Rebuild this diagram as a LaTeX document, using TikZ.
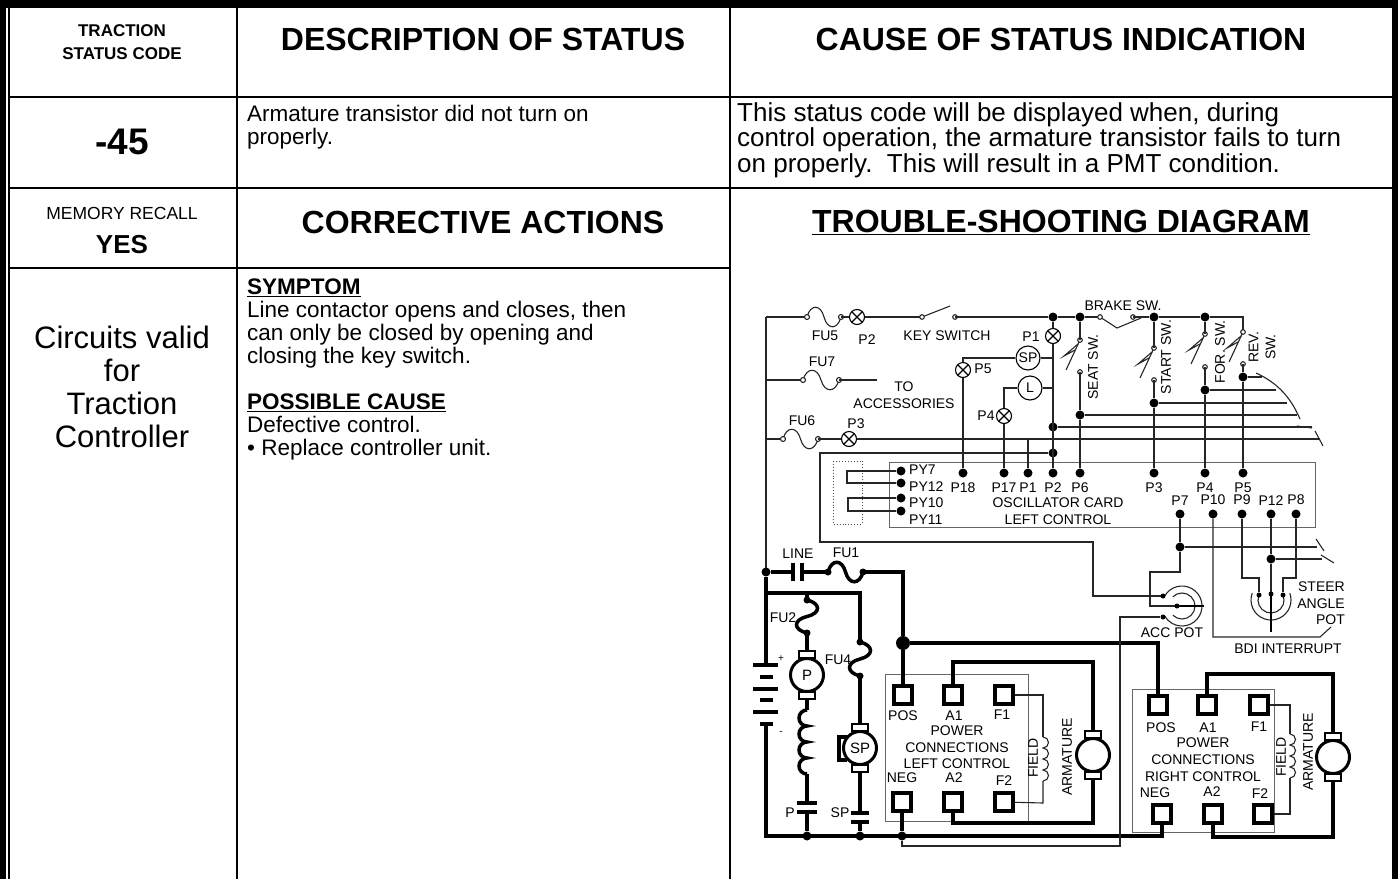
\documentclass[tikz,border=0pt]{standalone}
\usepackage{fontspec}
\setmainfont{Liberation Sans}
\usetikzlibrary{positioning,calc}

% fuse symbols: [style]{x1}{x2}{y} and [style]{x}{y1}{y2}
\newcommand{\hfuse}[4][wire]{%
  \draw[#1] (#2,#4) .. controls ({#2+0.1*(#3-#2)},{#4-13}) and ({#2+0.4*(#3-#2)},{#4-13}) .. ({(#2+#3)/2},#4)
    .. controls ({#2+0.6*(#3-#2)},{#4+13}) and ({#2+0.9*(#3-#2)},{#4+13}) .. (#3,#4);
  \draw[wire, fill=white] (#2,#4) circle (2.5pt) (#3,#4) circle (2.5pt);}
\newcommand{\vfuse}[4][wire]{%
  \draw[#1] (#2,#3) .. controls ({#2+14},{#3+0.1*(#4-#3)}) and ({#2+14},{#3+0.4*(#4-#3)}) .. (#2,{(#3+#4)/2})
    .. controls ({#2-14},{#3+0.6*(#4-#3)}) and ({#2-14},{#3+0.9*(#4-#3)}) .. (#2,#4);
  \fill (#2,#3) circle (3.5pt) (#2,#4) circle (3.5pt);}
% operator switch: x, upper contact, lower contact
\newcommand{\opsw}[3]{%
  \draw[wire] (#1,#2) -- ({#1-14},{#2+30});
  \draw[wire] ({#1-2},{#2+4}) -- ({#1-16},{#2+16}) -- ({#1-5},{#2+10});
  \draw[wire, fill=white] (#1,#2) circle (2.3pt) (#1,#3) circle (2.3pt);}
% coil with four bumps: x, top y, bump height, side (1 right, -1 left), style
\newcommand{\coil}[5]{%
  \draw[#5] (#1,#2) \foreach \k in {1,...,4} {arc[start angle=90, end angle={90-180*#4}, radius={#3*0.5pt}]};}
% motor brushes
\newcommand{\brushes}[1]{%
  \draw[line width=2.5pt, fill=white] ($(#1.north)+(-8,-6)$) rectangle ($(#1.north)+(8,1)$);
  \draw[line width=2.5pt, fill=white] ($(#1.south)+(-8,6)$) rectangle ($(#1.south)+(8,-1)$);}

\begin{document}
\begin{tikzpicture}[x=1pt, y=-1pt,
    rule/.style={line width=2pt},
    wire/.style={line width=1.1pt, black!85},
    pwr/.style={line width=3.5pt},
    box/.style={draw, black!60, line width=0.9pt},
    hd/.style={font=\bfseries\fontsize{32}{34}\selectfont, inner sep=0pt},
    body/.style={font=\fontsize{22.5}{23}\selectfont, align=left, anchor=north west, inner sep=0pt},
    lbl/.style={font=\fontsize{14}{16}\selectfont, inner sep=0pt},
    dot/.style={circle, fill, inner sep=0pt, minimum size=9pt},
    tdot/.style={circle, fill, inner sep=0pt, minimum size=5pt},
    lamp/.style={circle, draw, line width=1.1pt, fill=white, minimum size=15pt, inner sep=0pt,
      path picture={\draw[line width=1.1pt] (path picture bounding box.north west) -- (path picture bounding box.south east)
        (path picture bounding box.north east) -- (path picture bounding box.south west);}},
    ind/.style={circle, draw, line width=1.1pt, fill=white, minimum size=24pt, inner sep=0pt, font=\fontsize{14}{14}\selectfont},
    motor/.style={circle, draw, line width=3pt, fill=white, minimum size=33pt, inner sep=0pt, font=\fontsize{15}{15}\selectfont},
    term/.style={draw, line width=3.5pt, fill=white, minimum size=18pt, inner sep=0pt,
      path picture={\fill (path picture bounding box.center) circle (5.5pt);}}
]
    \useasboundingbox (0,0) rectangle (1398,879);

    % Frame and table
    \fill (0,0) rectangle (1398,8);
    \fill (0,0) rectangle (6,879);
    \fill (1392,0) rectangle (1398,879);
    \draw[rule] (9,8) -- (9,879) (237,8) -- (237,879) (730,8) -- (730,879);
    \draw[rule] (9,97) -- (1392,97) (9,188) -- (1392,188) (9,268) -- (730,268);

    % Table text
    \node[hd, font=\bfseries\fontsize{17}{23}\selectfont, align=center] (codehd) at (122,42) {TRACTION\\STATUS CODE};
    \node[hd] (deschd) at (483,39) {DESCRIPTION OF STATUS};
    \node[hd] (causehd) at (1061,39) {CAUSE OF STATUS INDICATION};
    \node[hd, font=\bfseries\fontsize{37}{37}\selectfont] (code) at (122,142) {-45};
    \node[body] (desc) at (247,105) {Armature transistor did not turn on\\properly.};
    \node[body, font=\fontsize{26}{25.5}\selectfont] (cause) at (737,102) {This status code will be displayed when, during\\control operation, the armature transistor fails to turn\\on properly.\ \ This will result in a PMT condition.};
    \node[lbl, font=\fontsize{17.5}{18}\selectfont] (memo) at (122,213) {MEMORY RECALL};
    \node[hd, font=\bfseries\fontsize{26}{26}\selectfont] (yes) at (122,245) {YES};
    \node[hd] (corrhd) at (483,222) {CORRECTIVE ACTIONS};
    \node[hd] (diaghd) at (1061,222) {\underline{TROUBLE-SHOOTING DIAGRAM}};
    \node[font=\fontsize{31}{33}\selectfont, align=center, inner sep=0pt] (valid) at (122,387) {Circuits valid\\for\\Traction\\Controller};
    \node[body] (corr) at (247,279) {\textbf{\underline{SYMPTOM}}\\Line contactor opens and closes, then\\can only be closed by opening and\\closing the key switch.\\[23pt]\textbf{\underline{POSSIBLE CAUSE}}\\Defective control.\\\textbullet\ Replace controller unit.};

    % Lamps and indicators
    \node[lamp] (lampP2) at (857,317) {};
    \node[lamp] (lampP1) at (1053,336) {};
    \node[lamp] (lampP5) at (963,370) {};
    \node[lamp] (lampP4) at (1004,416) {};
    \node[lamp] (lampP3) at (849,439) {};
    \node[ind] (indSP) at (1028,358) {SP};
    \node[ind] (indL) at (1030,388) {L};

    % Junctions
    \node[dot] (jKey) at (1053,317) {};
    \node[dot] (jSeat) at (1080,317) {};
    \node[dot] (jStart) at (1154,317) {};
    \node[dot] (jFor) at (1205,317) {};
    \node[dot] (jBus) at (1053,427) {};
    \node[dot] (jPot) at (1053,453) {};
    \node[dot] (dSeat) at (1080,415) {};
    \node[dot] (dStart) at (1154,403) {};
    \node[dot] (dFor) at (1205,390) {};
    \node[dot] (dRev) at (1243,377) {};
    \node[dot] (dP7) at (1180,547) {};
    \node[dot] (dP12) at (1271,559) {};

    % Oscillator card
    \draw[box] (889,462) rectangle (1315,527);
    \draw[dotted, black!70, line width=0.9pt] (833,461) rectangle (862,524);
    \foreach \n/\x in {P18/963, P17/1004, P1/1028, P2/1053, P6/1080, P3/1154, P4/1205, P5/1243} {
        \node[dot] (pin\n) at (\x,473) {};
        \node[lbl, below=5pt of pin\n] {\n};
    }
    \foreach \n/\x in {P7/1180, P10/1213, P9/1242, P12/1271, P8/1296} {
        \node[dot] (pin\n) at (\x,514) {};
        \node[lbl, above=4pt of pin\n] {\n};
    }
    \foreach \n/\y/\t in {PY7/471/470, PY12/483/487, PY10/498/503, PY11/511/520} {
        \node[dot] (pin\n) at (901,\y) {};
        \node[lbl, anchor=west] at (909,\t) {\n};
    }
    \node[lbl] (osc) at (1058,503) {OSCILLATOR CARD};
    \node[lbl] (osclc) at (1058,520) {LEFT CONTROL};
    \draw[wire] (pinPY7) -- (847,471) -- (847,483) -- (pinPY12);
    \draw[wire] (pinPY10) -- (848,498) -- (848,511) -- (pinPY11);

    % Key switch line
    \draw[wire] (766,317) -- (807,317);
    \hfuse{807}{841}{317}
    \draw[wire] (841,317) -- (lampP2) -- (922,317);
    \draw[wire] (922,317) -- (950,306);
    \draw[wire, fill=white] (922,317) circle (2.3pt) (955,317) circle (2.3pt);
    \draw[wire] (955,317) -- (jKey) -- (jSeat) -- (1100,317);
    \draw[wire] (1100,317) -- (1117,328) -- (1141,318);
    \draw[wire, fill=white] (1100,317) circle (2.3pt) (1133,317) circle (2.3pt);
    \draw[wire] (1133,317) -- (jStart) -- (jFor) -- (1243,317) -- (1243,332);
    \draw[wire] (jKey) -- (lampP1) -- (pinP2);

    % Indicators and lamps to card
    \draw[wire] (indSP.east) -- (1053,358);
    \draw[wire] (indSP.west) -| (lampP5);
    \draw[wire] (lampP5) -- (pinP18);
    \draw[wire] (indL.east) -- (1053,388);
    \draw[wire] (indL.west) -| (lampP4);
    \draw[wire] (lampP4) -- (pinP17);

    % Accessories and P3 line
    \draw[wire] (766,317) -- (766,572);
    \draw[wire] (766,380) -- (803,380);
    \hfuse{803}{839}{380}
    \draw[wire] (839,380) -- (877,380);
    \draw[wire] (766,439) -- (783,439);
    \hfuse{783}{818}{439}
    \draw[wire] (818,439) -- (lampP3) -- (1320,439);
    \draw[wire] (1028,439) -- (pinP1);

    % Operator switches
    \opsw{1080}{340}{372}
    \opsw{1154}{348}{380}
    \opsw{1205}{334}{367}
    \opsw{1243}{332}{364}
    \draw[wire] (jSeat) -- (1080,340);
    \draw[wire] (1080,372) -- (dSeat) -- (pinP6);
    \draw[wire] (jStart) -- (1154,348);
    \draw[wire] (1154,380) -- (dStart) -- (pinP3);
    \draw[wire] (jFor) -- (1205,334);
    \draw[wire] (1205,367) -- (dFor) -- (pinP4);
    \draw[wire] (1243,364) -- (dRev) -- (pinP5);

    % Cable to other control
    \draw[wire] (dRev) -- (1262,377);
    \draw[wire] (dFor) -- (1276,390);
    \draw[wire] (dStart) -- (1287,403);
    \draw[wire] (dSeat) -- (1297,415);
    \draw[wire] (jBus) -- (1312,427);
    \draw[wire] (1256,373) .. controls (1278,383) and (1291,398) .. (1300,419);
    \draw[wire] (1297,426) -- (1312,428);
    \draw[wire] (1315,431) -- (1323,446);

    % Pot supply
    \draw[wire] (jPot) -- (820,453) -- (820,542) -- (1093,542) -- (1093,596) -- (1163,596);

    % ACC pot
    \coordinate (accC) at (1182,606);
    \draw[wire] ([shift={(150:20pt)}]accC) arc[start angle=150, end angle=-150, radius=20pt];
    \draw[wire] ([shift={(135:13pt)}]accC) arc[start angle=135, end angle=-135, radius=13pt];
    \node[tdot] (accT) at (1163,596) {};
    \node[tdot] (accB) at (1163,617) {};
    \draw[wire] (pinP7) -- (dP7) -- (1180,572) -- (1150,572) -- (1150,606) -- (1177,606);
    \draw[line width=2.8pt] (1177,606) -- (1204,606);
    \fill (1177,606) circle (2.5pt);
    \node[lbl] (acclbl) at (1172,633) {ACC POT};
    \draw[wire] (dP7) -- (1317,547);
    \draw[wire] (1316,539) -- (1324,551) (1321,555) -- (1334,563);

    % BDI interrupt
    \draw[wire] (pinP10) -- (1213,637) -- (1320,637) -- (1331,627);
    \node[lbl] (bdi) at (1288,649) {BDI INTERRUPT};

    % Steer angle pot
    \coordinate (stC) at (1271,600);
    \draw[wire] ([shift={(160:20pt)}]stC) arc[start angle=160, end angle=380, radius=20pt];
    \draw[wire] ([shift={(160:13pt)}]stC) arc[start angle=160, end angle=380, radius=13pt];
    \node[tdot] (stA) at (1259,595) {};
    \node[tdot] (stB) at (1283,595) {};
    \draw[wire] (pinP9) -- (1242,578) -- (1259,578) -- (stA);
    \draw[wire] (pinP8) -- (1296,578) -- (1283,578) -- (stB);
    \draw[wire] (pinP12) -- (dP12) -- (1271,594);
    \draw[line width=2.8pt] (1271,594) -- (1271,632);
    \fill (1271,594) circle (2.5pt);
    \draw[wire] (dP12) -- (1322,559);
    \node[lbl, anchor=east] at (1345,587) {STEER};
    \node[lbl, anchor=east] at (1345,604) {ANGLE};
    \node[lbl, anchor=east] at (1345,620) {POT};

    % Diagram labels
    \node[lbl] at (825,336) {FU5};
    \node[lbl] at (867,340) {P2};
    \node[lbl] at (947,336) {KEY SWITCH};
    \node[lbl] at (1031,337) {P1};
    \node[lbl] at (822,362) {FU7};
    \node[lbl] at (904,387) {TO};
    \node[lbl] at (904,404) {ACCESSORIES};
    \node[lbl] at (802,421) {FU6};
    \node[lbl] at (856,424) {P3};
    \node[lbl] at (983,369) {P5};
    \node[lbl] at (986,416) {P4};
    \node[lbl] at (1123,306) {BRAKE SW.};
    \node[lbl, rotate=90] at (1093,367) {SEAT SW.};
    \node[lbl, rotate=90] at (1166,357) {START SW.};
    \node[lbl, rotate=90] at (1220,352) {FOR. SW.};
    \node[lbl, rotate=90, align=center, font=\fontsize{14}{17}\selectfont] at (1262,347) {REV.\\SW.};

    % Power circuit
    \node[dot] (jLine) at (766,572) {};
    \node[dot, minimum size=14pt] (jPos) at (903,643) {};
    \draw[pwr] (jLine) -- (793,572);
    \draw[pwr] (793,563) -- (793,581) (802,563) -- (802,581);
    \draw[pwr] (802,572) -- (828,572);
    \hfuse[pwr]{828}{863}{572}
    \fill (828,572) circle (3.5pt) (863,572) circle (3.5pt);
    \draw[pwr] (863,572) -- (903,572) -- (jPos);
    \node[lbl] at (798,554) {LINE};
    \node[lbl] at (846,553) {FU1};

    % Battery
    \draw[pwr] (jLine) -- (766,665);
    \draw[pwr] (753,665) -- (778,665) (760,677) -- (773,677) (753,689) -- (778,689)
        (760,700) -- (773,700) (753,712) -- (778,712) (760,724) -- (773,724);
    \node[lbl, font=\fontsize{10}{10}\selectfont] at (781,659) {+};
    \node[lbl, font=\fontsize{10}{10}\selectfont] at (781,733) {-};

    % Pump and steer motors
    \node[motor] (motP) at (807,675) {P};
    \node[motor] (motSP) at (860,748) {SP};
    \node[dot] (dP) at (807,836) {};
    \node[dot] (dSP) at (860,836) {};
    \node[dot] (jNeg) at (902,836) {};
    \draw[pwr] (766,593) -- (860,593) -- (860,642);
    \vfuse[pwr]{860}{642}{676}
    \draw[pwr] (860,676) -- (motSP);
    \draw[pwr] (847,737) -- (839,737) -- (839,760) -- (847,760);
    \draw[pwr] (motSP) -- (860,813) (851,813) -- (869,813) (851,822) -- (869,822) (860,822) -- (dSP);
    \draw[pwr] (807,593) -- (807,600);
    \vfuse[pwr]{807}{600}{633}
    \draw[pwr] (807,633) -- (motP);
    \draw[pwr] (motP) -- (807,710);
    \coil{807}{710}{16}{-1}{pwr}
    \draw[pwr] (807,774) -- (807,803) (797,803) -- (817,803) (797,812) -- (817,812) (807,812) -- (dP);
    \brushes{motP}
    \brushes{motSP}
    \node[lbl] at (783,618) {FU2};
    \node[lbl] at (838,660) {FU4};
    \node[lbl] at (790,813) {P};
    \node[lbl] at (840,813) {SP};

    % Left control power connections
    \draw[box] (885,674) rectangle (1028,821);
    \node[term] (posL) at (903,695) {};
    \node[term] (a1L) at (953,695) {};
    \node[term] (f1L) at (1004,695) {};
    \node[term] (negL) at (902,802) {};
    \node[term] (a2L) at (953,802) {};
    \node[term] (f2L) at (1004,802) {};
    \node[lbl] at (903,716) {POS};
    \node[lbl] at (954,716) {A1};
    \node[lbl] at (1002,715) {F1};
    \node[lbl] at (957,731) {POWER};
    \node[lbl] at (957,748) {CONNECTIONS};
    \node[lbl] at (957,764) {LEFT CONTROL};
    \node[lbl] at (902,778) {NEG};
    \node[lbl] at (954,778) {A2};
    \node[lbl] at (1004,781) {F2};
    \node[motor] (armL) at (1093,755) {};
    \draw[pwr] (jPos) -- (posL);
    \draw[pwr] (a1L) |- (1093,662) -- (armL);
    \draw[pwr] (armL) |- (953,823) -- (a2L);
    \brushes{armL}
    \draw[wire] (f1L) -- (1043,695) -- (1043,737);
    \coil{1043}{737}{11}{1}{wire}
    \draw[wire] (1043,781) -- (1043,803) -- (f2L);
    \node[lbl, rotate=90] at (1033,758) {FIELD};
    \node[lbl, rotate=90] at (1067,757) {ARMATURE};

    % Right control power connections
    \draw[box] (1132,689) rectangle (1274,832);
    \node[term] (posR) at (1158,705) {};
    \node[term] (a1R) at (1207,705) {};
    \node[term] (f1R) at (1259,705) {};
    \node[term] (negR) at (1162,814) {};
    \node[term] (a2R) at (1213,814) {};
    \node[term] (f2R) at (1263,814) {};
    \node[lbl] at (1161,728) {POS};
    \node[lbl] at (1208,728) {A1};
    \node[lbl] at (1259,727) {F1};
    \node[lbl] at (1203,743) {POWER};
    \node[lbl] at (1203,760) {CONNECTIONS};
    \node[lbl] at (1203,777) {RIGHT CONTROL};
    \node[lbl] at (1155,793) {NEG};
    \node[lbl] at (1212,792) {A2};
    \node[lbl] at (1260,794) {F2};
    \node[motor] (armR) at (1333,757) {};
    \draw[pwr] (jPos) -| (posR);
    \draw[pwr] (a1R) |- (1333,674) -- (armR);
    \draw[pwr] (armR) |- (1213,837) -- (a2R);
    \brushes{armR}
    \draw[wire] (f1R) -- (1290,705) -- (1290,734);
    \coil{1290}{734}{11}{1}{wire}
    \draw[wire] (1290,778) -- (1290,814) -- (f2R);
    \node[lbl, rotate=90] at (1281,757) {FIELD};
    \node[lbl, rotate=90] at (1308,752) {ARMATURE};

    % Negative return
    \draw[pwr] (766,724) -- (766,836) -| (negR);
    \draw[pwr] (negL) -- (jNeg);
    \draw[wire] (jNeg) -- (902,846) -- (1120,846) -- (1120,617) -- (accB);
\end{tikzpicture}
\end{document}
